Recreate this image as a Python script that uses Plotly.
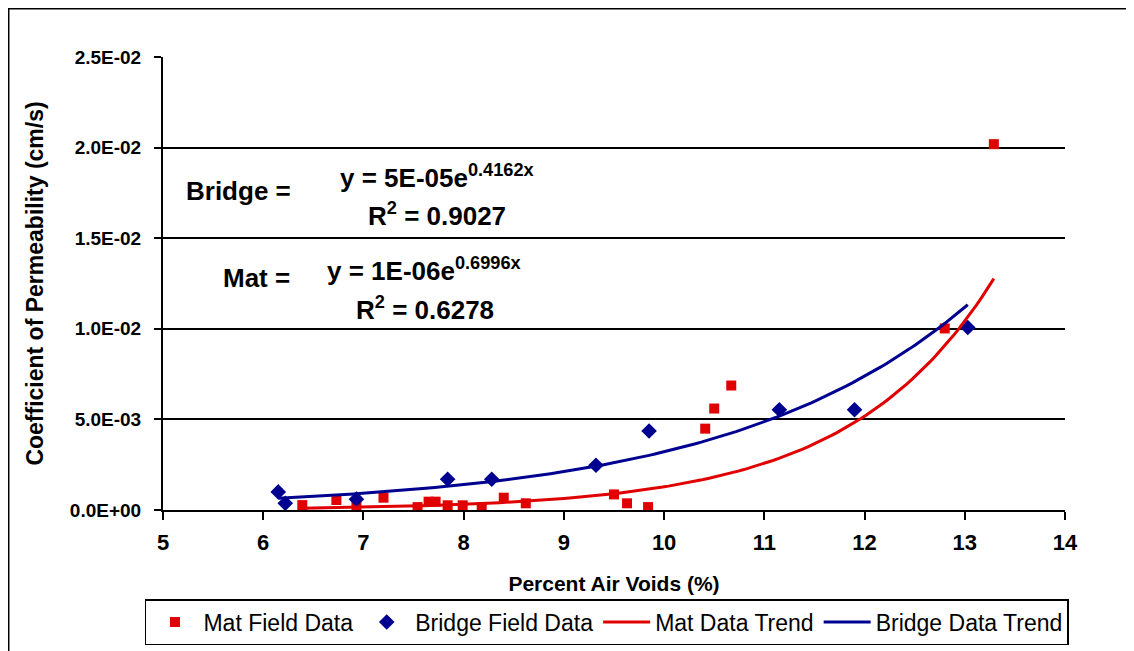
import numpy as np
import plotly.graph_objects as go

# ---------------- data ----------------
mat_x = [6.39, 6.73, 6.93, 7.20, 7.54, 7.65, 7.72, 7.84, 7.99, 8.18,
         8.40, 8.62, 9.50, 9.63, 9.84, 10.41, 10.50, 10.67, 12.80, 13.29]
mat_y = [0.00027, 0.00055, 0.00020, 0.00068, 0.00016, 0.00046, 0.00046, 0.00026, 0.00026, 0.00016,
         0.00068, 0.00037, 0.00086, 0.00037, 0.00016, 0.00449, 0.00560, 0.00687, 0.01002, 0.02019]

bridge_x = [6.15, 6.22, 6.93, 7.84, 8.28, 9.32, 9.85, 11.15, 11.90, 13.03]
bridge_y = [0.00100, 0.00037, 0.00060, 0.00170, 0.00170, 0.00247, 0.00436, 0.00553, 0.00553, 0.01007]

# exponential trend lines y = a * exp(b * x)
mat_trend_coef = [1.17e-06, 0.6996]      # label shows 1E-06e^0.6996x
bridge_trend_coef = [5.0e-05, 0.4162]    # label shows 5E-05e^0.4162x

x_ticks = [5, 6, 7, 8, 9, 10, 11, 12, 13, 14]
y_ticks = [0.0, 0.005, 0.010, 0.015, 0.020, 0.025]
y_tick_labels = ["0.0E+00", "5.0E-03", "1.0E-02", "1.5E-02", "2.0E-02", "2.5E-02"]

series_names = ["Mat Field Data", "Bridge Field Data", "Mat Data Trend", "Bridge Data Trend"]
x_title = "Percent Air Voids (%)"
y_title = "Coefficient of Permeability (cm/s)"

RED = "#E10000"
BLUE = "#000090"
FONT = "Liberation Sans, Arial, sans-serif"

# ---------------- figure ----------------
def trend(coef, xs):
    xx = np.linspace(min(xs), max(xs), 120)
    return xx, coef[0] * np.exp(coef[1] * xx)

fig = go.Figure()
fig.add_trace(go.Scatter(x=mat_x, y=mat_y, mode="markers", name=series_names[0],
                         marker=dict(symbol="square", size=10, color=RED)))
fig.add_trace(go.Scatter(x=bridge_x, y=bridge_y, mode="markers", name=series_names[1],
                         marker=dict(symbol="diamond", size=12, color=BLUE)))
mx, my = trend(mat_trend_coef, mat_x)
fig.add_trace(go.Scatter(x=mx, y=my, mode="lines", name=series_names[2],
                         line=dict(color=RED, width=3)))
bx, by = trend(bridge_trend_coef, bridge_x)
fig.add_trace(go.Scatter(x=bx, y=by, mode="lines", name=series_names[3],
                         line=dict(color=BLUE, width=3)))

ann_font = dict(family=FONT, size=26, color="black", weight="bold")
annotations = [
    dict(text="Bridge =", x=5.758, y=0.01761),
    dict(text="y = 5E-05e<sup>0.4162x</sup>", x=7.734, y=0.01838),
    dict(text="R<sup>2</sup> = 0.9027", x=7.734, y=0.01630),
    dict(text="Mat =", x=5.928, y=0.01281),
    dict(text="y = 1E-06e<sup>0.6996x</sup>", x=7.609, y=0.01330),
    dict(text="R<sup>2</sup> = 0.6278", x=7.614, y=0.01111),
]
for a in annotations:
    a.update(xref="x", yref="y", showarrow=False, font=ann_font,
             xanchor="center", yanchor="middle")

# page body has an 8px margin, so the figure is sized/offset to compensate
fig.update_layout(
    width=1126, height=643,
    margin=dict(l=155, r=69, t=49, b=141, pad=0, autoexpand=False),
    paper_bgcolor="white", plot_bgcolor="white",
    font=dict(family=FONT, color="black"),
    showlegend=True,
    legend=dict(orientation="h", x=-0.02, xanchor="left", y=-0.1965, yanchor="top",
                bordercolor="black", borderwidth=1.5, bgcolor="white",
                font=dict(family=FONT, size=23, color="black"),
                itemwidth=47, traceorder="normal"),
    annotations=annotations,
    shapes=[dict(type="rect", xref="paper", yref="paper",
                 x0=-0.1713, x1=1.12, y0=-0.34, y1=1.1071,
                 line=dict(color="black", width=2), fillcolor="rgba(0,0,0,0)", layer="below")],
)

fig.update_xaxes(
    range=[5, 14], tickvals=x_ticks, ticktext=[str(v) for v in x_ticks],
    showgrid=False, zeroline=False, showline=True, linecolor="black", linewidth=2,
    ticks="outside", ticklen=8, tickwidth=2, tickcolor="black",
    tickfont=dict(family=FONT, size=22, color="black", weight="bold"),
    ticklabelstandoff=4, automargin=False,
    title=dict(text=x_title, font=dict(family=FONT, size=21, color="black", weight="bold"),
               standoff=22),
)
fig.update_yaxes(
    range=[0, 0.025], tickvals=y_ticks, ticktext=y_tick_labels,
    showgrid=True, gridcolor="black", gridwidth=1.5,
    zeroline=False, showline=True, linecolor="black", linewidth=2,
    ticks="outside", ticklen=7, tickwidth=2, tickcolor="black",
    tickfont=dict(family=FONT, size=19, color="black", weight="bold"),
    ticklabelstandoff=9, automargin=False,
    title=dict(text=y_title, font=dict(family=FONT, size=23, color="black", weight="bold"),
               standoff=20),
)

fig.write_html("out.html")
